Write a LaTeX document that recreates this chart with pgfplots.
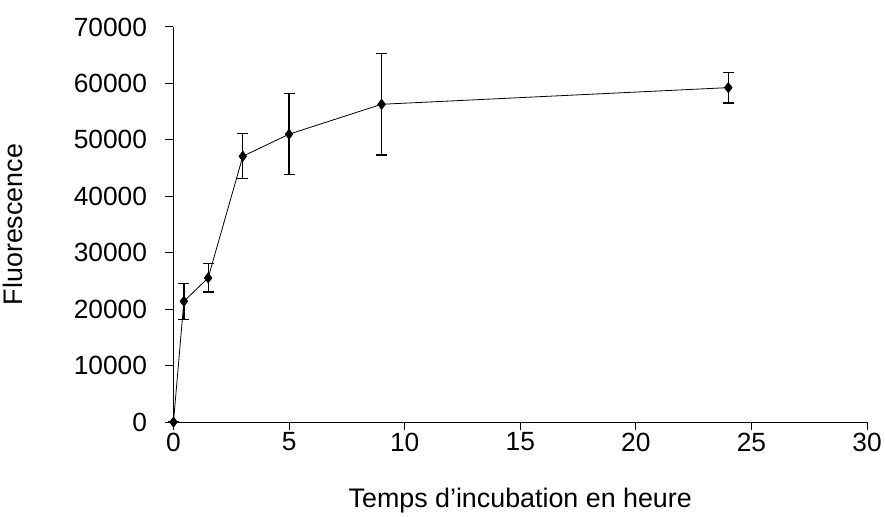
\documentclass[border=0pt]{standalone}
\usepackage{pgfplots}
\pgfplotsset{compat=1.18}
\usepackage{fontspec}
\setmainfont{Liberation Sans}
\begin{document}
\begin{tikzpicture}
  \begin{axis}[
    width=695bp, height=396bp,
    scale only axis,
    xmin=0, xmax=30,
    ymin=0, ymax=70000,
    xtick={0,5,...,30},
    ytick={0,10000,...,70000},
    axis lines*=left,
    axis line style={-, line width=1bp},
    xtick pos=left, ytick pos=left,
    tick align=outside,
    major tick length=8bp,
    every tick/.style={black, line width=1bp},
    scaled y ticks=false,
    /pgf/number format/1000 sep={},
    /pgf/number format/assume math mode=true,
    ticklabel style={font=\fontsize{26.5}{31}\selectfont},
    yticklabel style={xshift=-15bp},
    xticklabel style={yshift=1bp},
    label style={font=\fontsize{27}{31}\selectfont},
    xlabel={Temps d'incubation en heure},
    ylabel={Fluorescence},
    xlabel style={yshift=-30bp},
    ylabel style={yshift=44bp},
    clip=false,
    ]
    \addplot[black, line width=0.8bp,
      mark=diamond*, mark size=5bp,
      mark options={solid, fill=black},
      error bars/.cd, y dir=both, y explicit,
      error bar style={line width=1.3bp},
      error mark options={rotate=90, mark size=5.5bp, line width=1.3bp}]
      coordinates {
      (0,0) +- (0,0)
      (0.45,21400) +- (0,3200)
      (1.5,25550) +- (0,2500)
      (3,47100) +- (0,4000)
      (5,51000) +- (0,7200)
      (9,56300) +- (0,9000)
      (24,59250) +- (0,2700)
    };
  \end{axis}
  \path ([yshift=27bp]current axis.north west);
\end{tikzpicture}
\end{document}
